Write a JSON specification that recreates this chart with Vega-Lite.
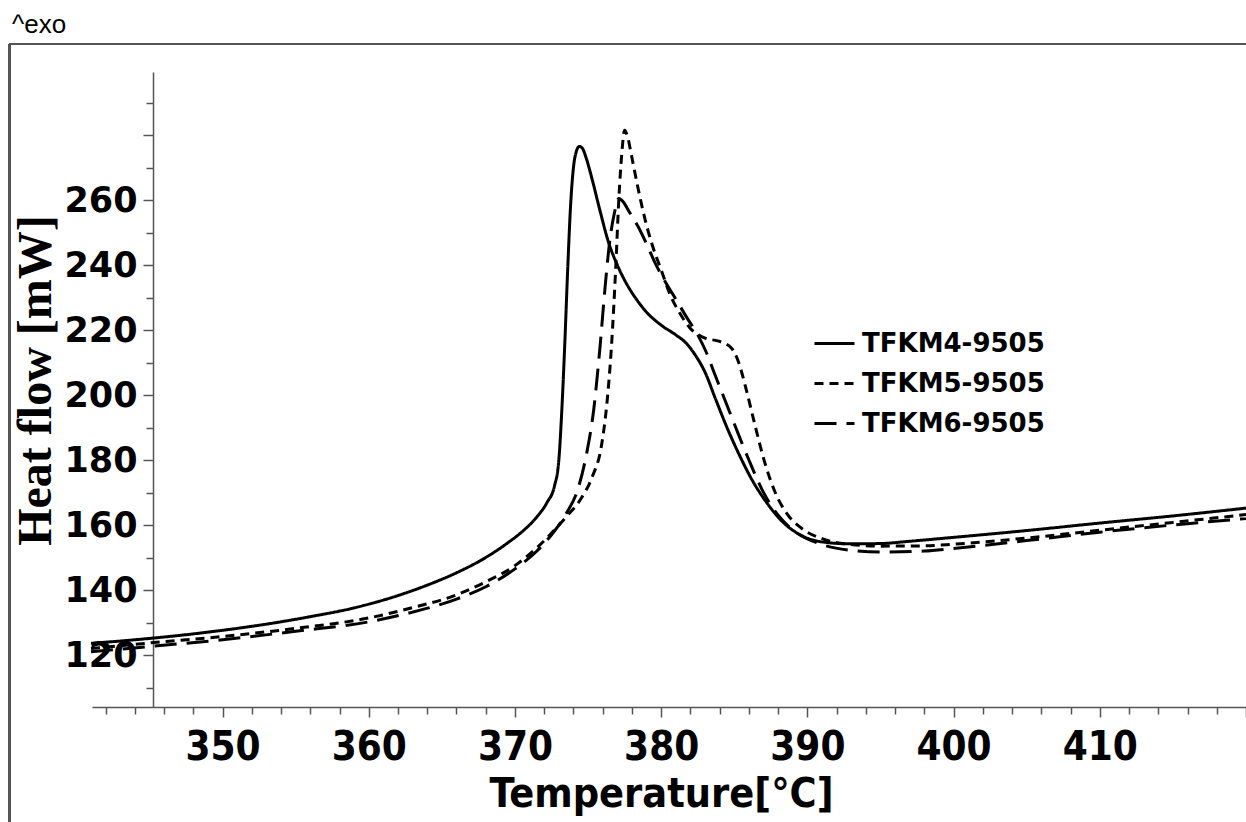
{
  "$schema": "https://vega.github.io/schema/vega-lite/v6.json",
  "width": 1154,
  "height": 635,
  "autosize": {"type": "none"},
  "padding": {"left": 92, "top": 72, "right": 0, "bottom": 115},
  "background": "white",
  "config": {"view": {"stroke": null}},
  "title": {"text": "^exo", "anchor": "start", "frame": "group", "font": "Liberation Sans", "fontSize": 26, "fontWeight": "normal", "color": "black", "dx": -80, "offset": -16, "baseline": "alphabetic"},
  "data": {"values": [
    {"s": "TFKM4-9505", "t": 341.0, "h": 123.6},
    {"s": "TFKM4-9505", "t": 343, "h": 124.3},
    {"s": "TFKM4-9505", "t": 345, "h": 125.1},
    {"s": "TFKM4-9505", "t": 347, "h": 126.0},
    {"s": "TFKM4-9505", "t": 350, "h": 127.6},
    {"s": "TFKM4-9505", "t": 353, "h": 129.5},
    {"s": "TFKM4-9505", "t": 356, "h": 131.8},
    {"s": "TFKM4-9505", "t": 359, "h": 134.5},
    {"s": "TFKM4-9505", "t": 362, "h": 138.3},
    {"s": "TFKM4-9505", "t": 364, "h": 141.5},
    {"s": "TFKM4-9505", "t": 366, "h": 145.3},
    {"s": "TFKM4-9505", "t": 368, "h": 150},
    {"s": "TFKM4-9505", "t": 369.5, "h": 154.5},
    {"s": "TFKM4-9505", "t": 370.5, "h": 158},
    {"s": "TFKM4-9505", "t": 371.5, "h": 162.5},
    {"s": "TFKM4-9505", "t": 372.2, "h": 167},
    {"s": "TFKM4-9505", "t": 372.7, "h": 172},
    {"s": "TFKM4-9505", "t": 373.0, "h": 180},
    {"s": "TFKM4-9505", "t": 373.2, "h": 195},
    {"s": "TFKM4-9505", "t": 373.4, "h": 215},
    {"s": "TFKM4-9505", "t": 373.6, "h": 238},
    {"s": "TFKM4-9505", "t": 373.8, "h": 258},
    {"s": "TFKM4-9505", "t": 374.0, "h": 270},
    {"s": "TFKM4-9505", "t": 374.2, "h": 275},
    {"s": "TFKM4-9505", "t": 374.4, "h": 276.5},
    {"s": "TFKM4-9505", "t": 374.6, "h": 276},
    {"s": "TFKM4-9505", "t": 374.9, "h": 272.5},
    {"s": "TFKM4-9505", "t": 375.3, "h": 266},
    {"s": "TFKM4-9505", "t": 375.8, "h": 257},
    {"s": "TFKM4-9505", "t": 376.4, "h": 247},
    {"s": "TFKM4-9505", "t": 377.0, "h": 240},
    {"s": "TFKM4-9505", "t": 377.6, "h": 234.5},
    {"s": "TFKM4-9505", "t": 378.3, "h": 229.5},
    {"s": "TFKM4-9505", "t": 379, "h": 225.5},
    {"s": "TFKM4-9505", "t": 380, "h": 221.5},
    {"s": "TFKM4-9505", "t": 381, "h": 218.5},
    {"s": "TFKM4-9505", "t": 381.7, "h": 216},
    {"s": "TFKM4-9505", "t": 382.3, "h": 212.5},
    {"s": "TFKM4-9505", "t": 383, "h": 207},
    {"s": "TFKM4-9505", "t": 383.7, "h": 199},
    {"s": "TFKM4-9505", "t": 384.5, "h": 190},
    {"s": "TFKM4-9505", "t": 385.3, "h": 182},
    {"s": "TFKM4-9505", "t": 386.2, "h": 174},
    {"s": "TFKM4-9505", "t": 387.2, "h": 167},
    {"s": "TFKM4-9505", "t": 388.3, "h": 161},
    {"s": "TFKM4-9505", "t": 389.5, "h": 157},
    {"s": "TFKM4-9505", "t": 391, "h": 154.8},
    {"s": "TFKM4-9505", "t": 393, "h": 154.2},
    {"s": "TFKM4-9505", "t": 395, "h": 154.3},
    {"s": "TFKM4-9505", "t": 397, "h": 155},
    {"s": "TFKM4-9505", "t": 400, "h": 156.2},
    {"s": "TFKM4-9505", "t": 405, "h": 158.3},
    {"s": "TFKM4-9505", "t": 410, "h": 160.6},
    {"s": "TFKM4-9505", "t": 415, "h": 162.8},
    {"s": "TFKM4-9505", "t": 420, "h": 165.2},

    {"s": "TFKM5-9505", "t": 341.0, "h": 122.0},
    {"s": "TFKM5-9505", "t": 345, "h": 123.7},
    {"s": "TFKM5-9505", "t": 350, "h": 125.7},
    {"s": "TFKM5-9505", "t": 355, "h": 128.2},
    {"s": "TFKM5-9505", "t": 360, "h": 131.4},
    {"s": "TFKM5-9505", "t": 363, "h": 134.6},
    {"s": "TFKM5-9505", "t": 366, "h": 138.5},
    {"s": "TFKM5-9505", "t": 368, "h": 142.5},
    {"s": "TFKM5-9505", "t": 370, "h": 147.5},
    {"s": "TFKM5-9505", "t": 371.5, "h": 153},
    {"s": "TFKM5-9505", "t": 372.5, "h": 157.5},
    {"s": "TFKM5-9505", "t": 373.5, "h": 162.5},
    {"s": "TFKM5-9505", "t": 374.5, "h": 168},
    {"s": "TFKM5-9505", "t": 375.3, "h": 175},
    {"s": "TFKM5-9505", "t": 375.9, "h": 184},
    {"s": "TFKM5-9505", "t": 376.3, "h": 198},
    {"s": "TFKM5-9505", "t": 376.6, "h": 215},
    {"s": "TFKM5-9505", "t": 376.9, "h": 240},
    {"s": "TFKM5-9505", "t": 377.1, "h": 260},
    {"s": "TFKM5-9505", "t": 377.3, "h": 274},
    {"s": "TFKM5-9505", "t": 377.5, "h": 281.5},
    {"s": "TFKM5-9505", "t": 377.7, "h": 279.5},
    {"s": "TFKM5-9505", "t": 378.0, "h": 273},
    {"s": "TFKM5-9505", "t": 378.4, "h": 264},
    {"s": "TFKM5-9505", "t": 378.9, "h": 254},
    {"s": "TFKM5-9505", "t": 379.4, "h": 246},
    {"s": "TFKM5-9505", "t": 380, "h": 238.5},
    {"s": "TFKM5-9505", "t": 380.6, "h": 231},
    {"s": "TFKM5-9505", "t": 381.3, "h": 225},
    {"s": "TFKM5-9505", "t": 382, "h": 220.5},
    {"s": "TFKM5-9505", "t": 383, "h": 217.5},
    {"s": "TFKM5-9505", "t": 384, "h": 216.5},
    {"s": "TFKM5-9505", "t": 384.8, "h": 214.5},
    {"s": "TFKM5-9505", "t": 385.3, "h": 210},
    {"s": "TFKM5-9505", "t": 385.8, "h": 202},
    {"s": "TFKM5-9505", "t": 386.4, "h": 191},
    {"s": "TFKM5-9505", "t": 387.1, "h": 179},
    {"s": "TFKM5-9505", "t": 387.8, "h": 170},
    {"s": "TFKM5-9505", "t": 388.6, "h": 163.5},
    {"s": "TFKM5-9505", "t": 389.6, "h": 159},
    {"s": "TFKM5-9505", "t": 391, "h": 155.8},
    {"s": "TFKM5-9505", "t": 393, "h": 154},
    {"s": "TFKM5-9505", "t": 395, "h": 153.5},
    {"s": "TFKM5-9505", "t": 398, "h": 153.6},
    {"s": "TFKM5-9505", "t": 400, "h": 154.1},
    {"s": "TFKM5-9505", "t": 405, "h": 156},
    {"s": "TFKM5-9505", "t": 410, "h": 158.4},
    {"s": "TFKM5-9505", "t": 415, "h": 160.8},
    {"s": "TFKM5-9505", "t": 420, "h": 163.2},

    {"s": "TFKM6-9505", "t": 341.0, "h": 121.0},
    {"s": "TFKM6-9505", "t": 345, "h": 122.6},
    {"s": "TFKM6-9505", "t": 350, "h": 124.7},
    {"s": "TFKM6-9505", "t": 355, "h": 127.3},
    {"s": "TFKM6-9505", "t": 360, "h": 130.2},
    {"s": "TFKM6-9505", "t": 363, "h": 133.2},
    {"s": "TFKM6-9505", "t": 366, "h": 137.2},
    {"s": "TFKM6-9505", "t": 368, "h": 141},
    {"s": "TFKM6-9505", "t": 370, "h": 146.5},
    {"s": "TFKM6-9505", "t": 371.5, "h": 152},
    {"s": "TFKM6-9505", "t": 372.5, "h": 157},
    {"s": "TFKM6-9505", "t": 373.5, "h": 163.5},
    {"s": "TFKM6-9505", "t": 374.3, "h": 171},
    {"s": "TFKM6-9505", "t": 374.9, "h": 182},
    {"s": "TFKM6-9505", "t": 375.4, "h": 196},
    {"s": "TFKM6-9505", "t": 375.8, "h": 214},
    {"s": "TFKM6-9505", "t": 376.2, "h": 235},
    {"s": "TFKM6-9505", "t": 376.5, "h": 248},
    {"s": "TFKM6-9505", "t": 376.8, "h": 256},
    {"s": "TFKM6-9505", "t": 377.1, "h": 260.5},
    {"s": "TFKM6-9505", "t": 377.4, "h": 259.5},
    {"s": "TFKM6-9505", "t": 377.8, "h": 256.5},
    {"s": "TFKM6-9505", "t": 378.4, "h": 252},
    {"s": "TFKM6-9505", "t": 379, "h": 246.5},
    {"s": "TFKM6-9505", "t": 379.6, "h": 240.5},
    {"s": "TFKM6-9505", "t": 380.2, "h": 235.5},
    {"s": "TFKM6-9505", "t": 381, "h": 229.5},
    {"s": "TFKM6-9505", "t": 381.8, "h": 223.5},
    {"s": "TFKM6-9505", "t": 382.5, "h": 218.5},
    {"s": "TFKM6-9505", "t": 383.1, "h": 213},
    {"s": "TFKM6-9505", "t": 383.7, "h": 206},
    {"s": "TFKM6-9505", "t": 384.4, "h": 198},
    {"s": "TFKM6-9505", "t": 385.1, "h": 190},
    {"s": "TFKM6-9505", "t": 386, "h": 180},
    {"s": "TFKM6-9505", "t": 387, "h": 170},
    {"s": "TFKM6-9505", "t": 388, "h": 163},
    {"s": "TFKM6-9505", "t": 389.3, "h": 157.5},
    {"s": "TFKM6-9505", "t": 391, "h": 154},
    {"s": "TFKM6-9505", "t": 393, "h": 152.2},
    {"s": "TFKM6-9505", "t": 395, "h": 151.7},
    {"s": "TFKM6-9505", "t": 398, "h": 152},
    {"s": "TFKM6-9505", "t": 400, "h": 152.8},
    {"s": "TFKM6-9505", "t": 405, "h": 155.2},
    {"s": "TFKM6-9505", "t": 410, "h": 157.8},
    {"s": "TFKM6-9505", "t": 415, "h": 160},
    {"s": "TFKM6-9505", "t": 420, "h": 162}
  ]},
  "layer": [
    {
      "mark": {"type": "rule", "color": "#555555", "strokeWidth": 2},
      "encoding": {
        "x": {"datum": 335.46, "type": "quantitative"},
        "x2": {"datum": 425},
        "y": {"datum": 308, "type": "quantitative"}
      }
    },
    {
      "mark": {"type": "rule", "color": "#555555", "strokeWidth": 2},
      "encoding": {
        "x": {"datum": 335.46, "type": "quantitative"},
        "y": {"datum": 308, "type": "quantitative"},
        "y2": {"datum": 60}
      }
    },
    {
      "mark": {"type": "line", "interpolate": "monotone", "strokeWidth": 3, "color": "black"},
      "encoding": {
        "x": {
          "field": "t", "type": "quantitative",
          "scale": {"domain": [341.07, 420], "nice": false, "zero": false},
          "axis": {
            "values": [342,344,346,348,350,352,354,356,358,360,362,364,366,368,370,372,374,376,378,380,382,384,386,388,390,392,394,396,398,400,402,404,406,408,410,412,414,416,418,420],
            "tickCount": 200,
            "format": "d",
            "grid": false,
            "domainColor": "#555555", "domainWidth": 1.5,
            "tickColor": "#555555", "tickWidth": 1.5,
            "tickSize": {"condition": {"test": "datum.value % 10 === 0", "value": 10}, "value": 7},
            "labelExpr": "datum.value % 10 === 0 && datum.value < 420 ? datum.label : ''",
            "labelFont": "DejaVu Sans Condensed, Liberation Sans",
            "labelFontSize": 40, "labelFontWeight": "bold", "labelColor": "black",
            "labelFlush": false, "labelOverlap": false, "labelPadding": 10,
            "title": "Temperature[°C]",
            "titleFont": "DejaVu Sans Condensed, Liberation Sans",
            "titleFontSize": 41, "titleFontWeight": "bold", "titleColor": "black",
            "titleX": 569, "titleY": 99, "titleBaseline": "alphabetic", "titleAlign": "center"
          }
        },
        "y": {
          "field": "h", "type": "quantitative",
          "scale": {"domain": [104, 299.4], "nice": false, "zero": false},
          "axis": {
            "orient": "left", "offset": -61,
            "values": [110,120,130,140,150,160,170,180,190,200,210,220,230,240,250,260,270,280,290],
            "tickCount": 200,
            "format": "d",
            "grid": false,
            "domainColor": "#555555", "domainWidth": 1.5,
            "tickColor": "#555555", "tickWidth": 1.5,
            "tickSize": {"condition": {"test": "datum.value % 20 === 0", "value": 10}, "value": 7},
            "labelExpr": "datum.value % 20 === 0 && datum.value <= 260 ? datum.label : ''",
            "labelFont": "DejaVu Sans", "labelFontSize": 35, "labelFontWeight": "bold", "labelColor": "black",
            "labelPadding": 6, "labelOverlap": false, "labelFlush": false,
            "title": "Heat flow [mW]",
            "titleFont": "Liberation Serif", "titleFontSize": 48, "titleFontWeight": "bold", "titleColor": "black",
            "titleX": -103, "titleY": 308, "titleBaseline": "alphabetic", "titleAlign": "center", "titleAngle": -90
          }
        },
        "detail": {"field": "s"},
        "strokeDash": {
          "field": "s", "type": "nominal",
          "scale": {"domain": ["TFKM4-9505", "TFKM5-9505", "TFKM6-9505"], "range": [[1, 0], [9, 6], [22, 10]]},
          "legend": {
            "orient": "none", "legendX": 721, "legendY": 250, "title": null,
            "symbolType": "stroke", "symbolSize": 1600, "symbolStrokeWidth": 3, "symbolStrokeColor": "black",
            "labelFont": "DejaVu Sans", "labelFontWeight": "bold", "labelFontSize": 26, "labelColor": "black",
            "labelOffset": 6, "rowPadding": 5, "labelLimit": 400,
            "encode": {
              "symbols": {
                "enter": {
                  "strokeDash": {"signal": "datum.value === 'TFKM6-9505' ? [4, 6] : datum.value === 'TFKM5-9505' ? [8, 5] : [1, 0]"}
                },
                "update": {
                  "strokeDash": {"signal": "datum.value === 'TFKM6-9505' ? [4, 6] : datum.value === 'TFKM5-9505' ? [8, 5] : [1, 0]"}
                }
              }
            }
          }
        }
      }
    }
  ]
}
